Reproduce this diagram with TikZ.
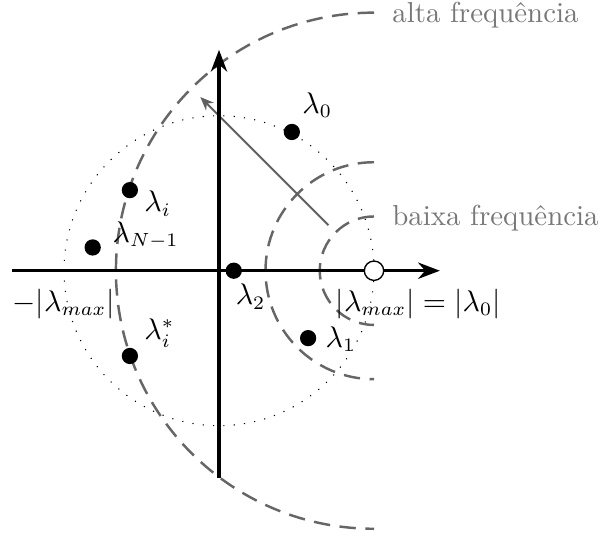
\documentclass[tikz,border=0pt]{standalone}
\usepackage{xcolor}
\usetikzlibrary{arrows.meta,positioning,calc}
\definecolor{arcgray}{HTML}{666666}
\definecolor{vecgray}{HTML}{606060}
\definecolor{freqgray}{HTML}{777777}

\begin{document}
\begin{tikzpicture}[
    >=Stealth,
    axisline/.style={
        line width=1.2pt, -{Stealth[length=8pt, width=6pt]}
    },
    unitcircle/.style={
        line width=0.4pt, dash pattern=on 0.4pt off 3.4pt
    },
    freqarc/.style={
        draw=arcgray, line width=0.9pt, dash pattern=on 6pt off 3.5pt
    },
    vecarrow/.style={
        draw=vecgray, line width=0.7pt, -{Stealth[length=5pt, width=4pt]}
    },
    eig/.style={
        circle, fill=black, inner sep=0pt, minimum size=2.1mm
    },
    eigmax/.style={
        circle, draw=black, fill=white, line width=0.5pt,
        inner sep=0pt, minimum size=2.5mm
    },
    lbl/.style={
        inner sep=0pt, anchor=base west,
        font=\fontsize{10.6pt}{12.7pt}\selectfont
    },
    freqlbl/.style={
        inner sep=0pt, anchor=west, text=freqgray,
        font=\fontsize{10.6pt}{12.7pt}\selectfont
    }
]

\useasboundingbox (-2.826,-3.410) rectangle (4.929,3.493);

\def\R{2}

% ==================== SPECTRAL CIRCLE AND AXES ====================
\coordinate (O) at (0,0);
\coordinate (xl) at (-2.67,0);
\coordinate (xr) at (2.85,0);
\coordinate (yb) at (0,-2.67);
\coordinate (yt) at (0,2.85);
\coordinate (m) at (\R,0);
\coordinate (mneg) at (-\R,0);

\draw[unitcircle] (O) circle[radius=\R];

% ==================== FREQUENCY ARCS ====================
\draw[freqarc] ([shift={(90:0.7)}]m) arc[start angle=90, end angle=270, radius=0.7];
\draw[freqarc] ([shift={(90:1.4)}]m) arc[start angle=90, end angle=270, radius=1.4];
\draw[freqarc] ([shift={(90:3.33)}]m) arc[start angle=90, end angle=270, radius=3.33];

\node[freqlbl] (hf) at ($(m) + (0.23, 3.30)$) {alta frequência};
\node[freqlbl] (lf) at ($(m) + (0.23, 0.68)$) {baixa frequência};

\coordinate (v0) at ([shift={(135:0.83)}]m);
\coordinate (v1) at ([shift={(135:3.17)}]m);
\draw[vecarrow] (v0) -- (v1);

\draw[axisline] (xl) -- (xr);
\draw[axisline] (yb) -- (yt);

% ==================== EIGENVALUES ====================
\node[eig] (d0) at (0.94, 1.79) {};
\node[eig] (di) at (-1.15, 1.04) {};
\node[eig] (dn) at (-1.63, 0.30) {};
\node[eig] (d2) at (0.19, 0) {};
\node[eig] (d1) at (1.15, -0.87) {};
\node[eig] (dc) at (-1.15, -1.10) {};
\node[eigmax] (dmax) at (m) {};

\node[lbl] (l0) at ($(d0) + (0.13, 0.24)$)  {$\lambda_0$};
\node[lbl] (li) at ($(di) + (0.18, -0.28)$) {$\lambda_i$};
\node[lbl] (ln) at ($(dn) + (0.25, 0.07)$)  {$\lambda_{N-1}$};
\node[lbl] (l2) at ($(d2) + (0.02, -0.44)$) {$\lambda_2$};
\node[lbl] (l1) at ($(d1) + (0.22, -0.115)$) {$\lambda_1$};
\node[lbl] (lc) at ($(dc) + (0.18, 0.21)$)  {$\lambda_i^*$};

\node[lbl] (lneg) at ($(mneg) + (-0.67, -0.52)$) {$-|\lambda_{max}|$};
\node[lbl] (lpos) at ($(dmax) + (-0.50, -0.52)$) {$|\lambda_{max}| = |\lambda_0|$};

\end{tikzpicture}
\end{document}
